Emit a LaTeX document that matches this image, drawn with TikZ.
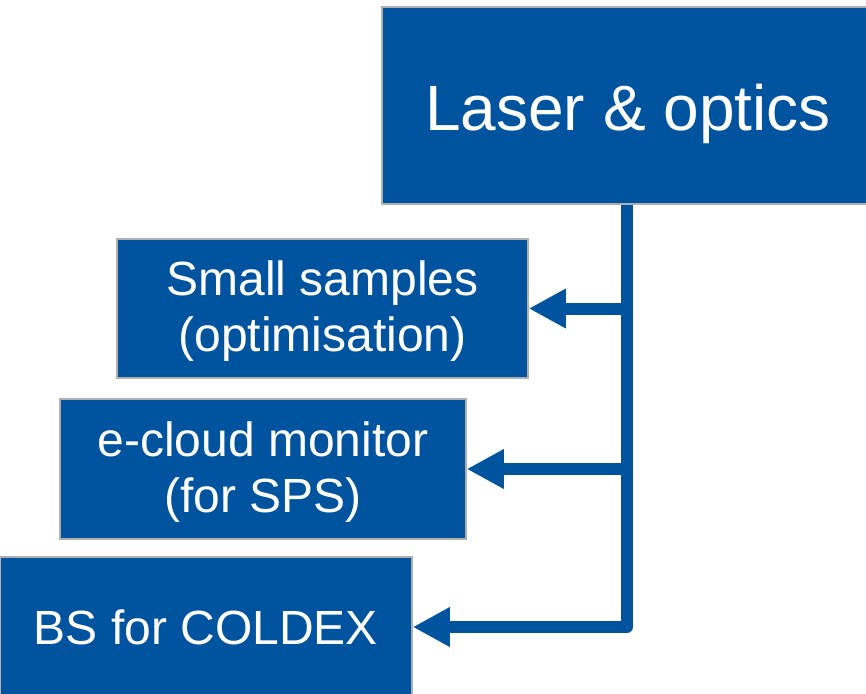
\documentclass[tikz,border=0pt]{standalone}
\usepackage{fontspec}
\setmainfont{Liberation Sans}
\usetikzlibrary{arrows.meta}
\definecolor{boxblue}{RGB}{0,84,159}
\definecolor{edgegray}{RGB}{175,175,175}
\tikzset{
  box/.style={draw=edgegray, line width=1.5pt, fill=boxblue, text=white,
    inner sep=0pt, align=center, font=\fontsize{48}{56}\selectfont},
  conn/.style={draw=boxblue, line width=12pt, line join=round,
    -{Triangle[length=37pt,width=37pt]}}
}
\begin{document}
\begin{tikzpicture}[x=1pt,y=-1pt]
\useasboundingbox (0,0) rectangle (866,693);
\node[box, minimum width=492pt, minimum height=197pt, font=\fontsize{64}{77}\selectfont] (laser) at (628,105.5) {\raisebox{-8pt}[\height][\depth]{Laser \& optics}};
\node[box, minimum width=411pt, minimum height=139pt] (small) at (322.5,308.5) {\raisebox{-3pt}[\height][\depth]{Small samples}\\\raisebox{-3pt}[\height][\depth]{(optimisation)}};
\node[box, minimum width=406pt, minimum height=140pt] (ecloud) at (263,469) {\raisebox{-3pt}[\height][\depth]{e-cloud monitor}\\\raisebox{-3pt}[\height][\depth]{(for SPS)}};
\node[box, minimum width=412pt, minimum height=140pt] (bs) at (206,627) {BS for COLDEX};
\draw[conn] ([xshift=-1pt]laser.south) |- (bs.east);
\draw[conn] ([xshift=-1pt]laser.south |- small.east) -- (small.east);
\draw[conn] ([xshift=-1pt]laser.south |- ecloud.east) -- (ecloud.east);
\end{tikzpicture}
\end{document}
